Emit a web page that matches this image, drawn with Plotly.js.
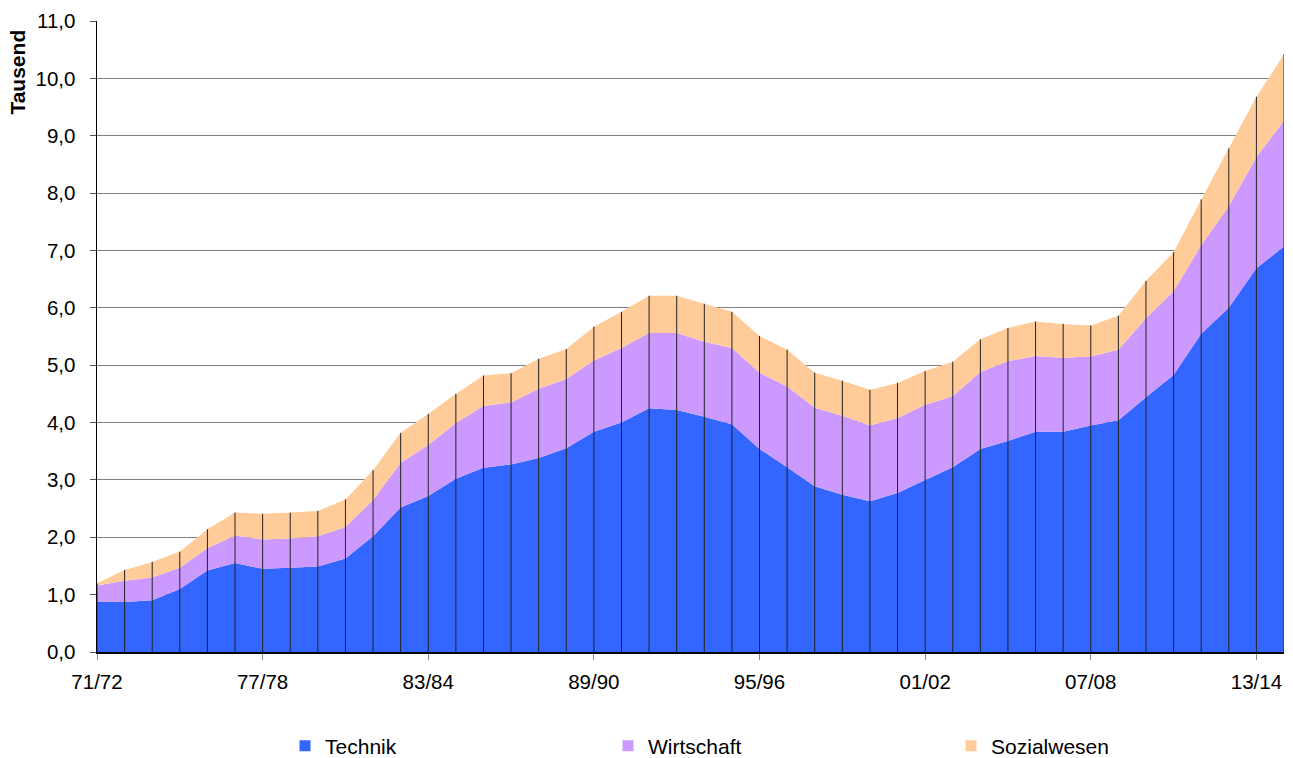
<!DOCTYPE html>
<html>
<head>
<meta charset="utf-8">
<script src="https://cdn.plot.ly/plotly-3.0.1.min.js"></script>
<style>
  html, body { margin: 0; padding: 0; background: #fff; }
  #chart { width: 1293px; height: 758px; }
</style>
</head>
<body>
<div id="chart"></div>
<script>
// School years (Studienjahre)
const categories = [
  "71/72","72/73","73/74","74/75","75/76","76/77","77/78","78/79","79/80","80/81",
  "81/82","82/83","83/84","84/85","85/86","86/87","87/88","88/89","89/90","90/91",
  "91/92","92/93","93/94","94/95","95/96","96/97","97/98","98/99","99/00","00/01",
  "01/02","02/03","03/04","04/05","05/06","06/07","07/08","08/09","09/10","10/11",
  "11/12","12/13","13/14","14/15"
];

// Values in thousands
const technik = [
  0.88,0.87,0.90,1.10,1.42,1.55,1.45,1.47,1.49,1.63,
  2.02,2.52,2.72,3.02,3.21,3.27,3.38,3.55,3.84,4.00,
  4.25,4.22,4.10,3.97,3.54,3.22,2.89,2.74,2.63,2.77,
  3.00,3.22,3.54,3.68,3.84,3.84,3.95,4.04,4.44,4.83,
  5.55,6.00,6.69,7.07
];
const wirtschaft = [
  0.28,0.37,0.40,0.37,0.39,0.48,0.51,0.51,0.53,0.55,
  0.63,0.78,0.89,0.97,1.08,1.08,1.21,1.21,1.24,1.30,
  1.31,1.34,1.31,1.33,1.33,1.41,1.37,1.38,1.32,1.31,
  1.31,1.24,1.34,1.39,1.32,1.29,1.20,1.23,1.38,1.46,
  1.54,1.77,1.94,2.19
];
const sozialwesen = [
  0.04,0.19,0.27,0.28,0.33,0.40,0.45,0.45,0.44,0.48,
  0.52,0.52,0.54,0.51,0.53,0.51,0.52,0.52,0.59,0.63,
  0.65,0.65,0.66,0.63,0.64,0.64,0.61,0.61,0.62,0.61,
  0.59,0.60,0.57,0.58,0.60,0.59,0.54,0.59,0.65,0.68,
  0.80,1.01,1.05,1.16
];

const tickLabels = ["71/72","77/78","83/84","89/90","95/96","01/02","07/08","13/14"];
const yTicks = [0,1,2,3,4,5,6,7,8,9,10,11];

const seriesNames = ["Technik","Wirtschaft","Sozialwesen"];
const seriesColors = ["#3366FF","#CC99FF","#FFCC99"];
const seriesData = [technik, wirtschaft, sozialwesen];

const FONT = "Liberation Sans, Arial, sans-serif";

const traces = [];
seriesData.forEach((vals, k) => {
  traces.push({
    type: "scatter",
    x: categories,
    y: vals,
    name: seriesNames[k],
    stackgroup: "one",
    mode: "none",
    fillcolor: seriesColors[k],
    showlegend: false,
    hoverinfo: "x+y+name"
  });
});

// Drop lines from axis to stack top at each category
const totals = categories.map((c, i) => technik[i] + wirtschaft[i] + sozialwesen[i]);
const dx = [], dy = [];
categories.forEach((c, i) => { dx.push(c, c, null); dy.push(0, totals[i], null); });
traces.push({
  type: "scatter",
  x: dx, y: dy,
  mode: "lines",
  line: { color: "#222222", width: 1 },
  showlegend: false,
  hoverinfo: "skip"
});

// Legend entries (one legend per entry for free placement)
const legendIds = ["legend","legend2","legend3"];
seriesNames.forEach((n, k) => {
  traces.push({
    type: "scatter",
    x: [null], y: [null],
    name: n,
    mode: "markers",
    marker: { symbol: "square", size: 11, color: seriesColors[k] },
    legend: legendIds[k],
    showlegend: true
  });
});

const legendBase = (x) => ({
  x: x, xref: "paper", xanchor: "left",
  y: -0.149, yref: "paper", yanchor: "middle",
  orientation: "h",
  bgcolor: "rgba(0,0,0,0)",
  borderwidth: 0,
  itemwidth: 30,
  font: { family: FONT, size: 21, color: "#000" }
});

const layout = {
  width: 1293,
  height: 758,
  margin: { l: 97, r: 9, t: 21, b: 106, pad: 0, autoexpand: false },
  paper_bgcolor: "#fff",
  plot_bgcolor: "#fff",
  separators: ",.",
  font: { family: FONT, size: 20.5, color: "#000" },
  showlegend: true,
  xaxis: {
    type: "category",
    range: [0, categories.length - 1],
    tickmode: "array",
    tickvals: tickLabels,
    ticktext: tickLabels,
    ticks: "outside",
    ticklen: 6,
    tickcolor: "#888",
    ticklabelstandoff: 5,
    showgrid: false,
    showline: true,
    linecolor: "#000",
    linewidth: 1.5,
    zeroline: false,
    automargin: false,
    tickfont: { family: FONT, size: 20.5, color: "#000" },
    fixedrange: true
  },
  yaxis: {
    range: [0, 11],
    tickmode: "array",
    tickvals: yTicks,
    tickformat: ".1f",
    ticks: "outside",
    ticklen: 6,
    tickcolor: "#555",
    ticklabelstandoff: 10,
    showgrid: true,
    gridcolor: "#808080",
    gridwidth: 1,
    showline: true,
    linecolor: "#000",
    linewidth: 1.5,
    zeroline: false,
    automargin: false,
    tickfont: { family: FONT, size: 20.5, color: "#000" },
    fixedrange: true
  },
  legend: legendBase(0.1584),
  legend2: legendBase(0.4305),
  legend3: legendBase(0.7195),
  annotations: [{
    text: "<b>Tausend</b>",
    xref: "paper", yref: "paper",
    x: -0.067, y: 0.919,
    xanchor: "center", yanchor: "middle",
    textangle: -90,
    showarrow: false,
    font: { family: FONT, size: 21, color: "#000" }
  }]
};

Plotly.newPlot("chart", traces, layout, { displayModeBar: false, staticPlot: true });
</script>
</body>
</html>
